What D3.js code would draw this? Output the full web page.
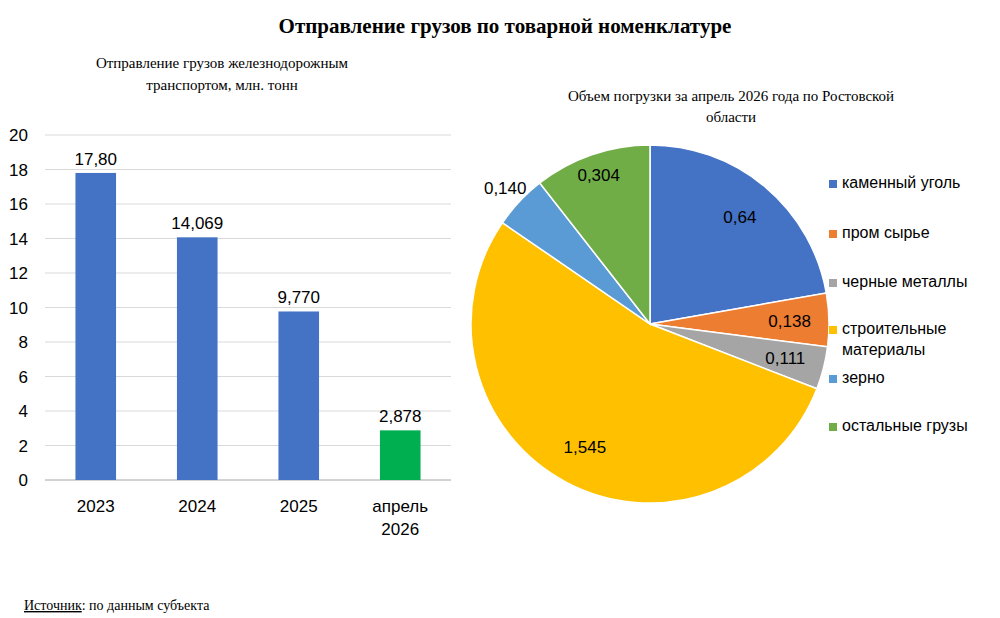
<!DOCTYPE html>
<html><head><meta charset="utf-8">
<script src="https://cdn.jsdelivr.net/npm/d3@7/dist/d3.min.js"></script>
<style>body{margin:0;background:#fff}</style></head>
<body><svg id="c" width="1000" height="618"></svg>
<script>
const barCats = [["2023"],["2024"],["2025"],["апрель","2026"]];
const barVals = [17.80, 14.069, 9.770, 2.878];
const barLabels = ["17,80","14,069","9,770","2,878"];
const barColors = ["#4472C4","#4472C4","#4472C4","#00B050"];
const yTicks = [0,2,4,6,8,10,12,14,16,18,20];

const pieCats = [["каменный уголь"],["пром сырье"],["черные металлы"],["строительные","материалы"],["зерно"],["остальные грузы"]];
const pieVals = [0.64, 0.138, 0.111, 1.545, 0.140, 0.304];
const pieLabels = ["0,64","0,138","0,111","1,545","0,140","0,304"];
const pieColors = ["#4472C4","#ED7D31","#A5A5A5","#FFC000","#5B9BD5","#70AD47"];

const svg = d3.select("#c");
const serif = "'Liberation Serif','DejaVu Serif',serif";
const sans = "'Liberation Sans',Arial,sans-serif";

svg.append("text").attr("x",505).attr("y",33).attr("text-anchor","middle")
  .attr("font-family",serif).attr("font-weight","bold").attr("font-size",21).text("Отправление грузов по товарной номенклатуре");
[["Отправление грузов железнодорожным",68],["транспортом, млн. тонн",90]].forEach(([t,y])=>
  svg.append("text").attr("x",222).attr("y",y).attr("text-anchor","middle").attr("font-family",serif).attr("font-size",15).text(t));
[["Объем погрузки за апрель 2026 года по Ростовской",101],["области",122]].forEach(([t,y])=>
  svg.append("text").attr("x",731).attr("y",y).attr("text-anchor","middle").attr("font-family",serif).attr("font-size",15).text(t));

// bar chart
const x = d3.scaleBand().domain(d3.range(barVals.length)).range([45,451]).paddingInner(0.6).paddingOuter(0.3);
const y = d3.scaleLinear().domain([0,20]).range([480,135]);
const g = svg.append("g");
g.selectAll(".grid").data(yTicks).join("line").attr("x1",45).attr("x2",451)
  .attr("y1",d=>y(d)).attr("y2",d=>y(d)).attr("stroke",d=>d===0?"#a6a6a6":"#d9d9d9").attr("stroke-width",1);
g.selectAll(".yt").data(yTicks).join("text").attr("x",28).attr("y",d=>y(d)+6).attr("text-anchor","end")
  .attr("font-family",sans).attr("font-size",17).text(d=>d);
g.selectAll(".bar").data(barVals).join("rect").attr("x",(d,i)=>x(i)).attr("width",x.bandwidth())
  .attr("y",d=>y(d)).attr("height",d=>y(0)-y(d)).attr("fill",(d,i)=>barColors[i]);
g.selectAll(".bl").data(barVals).join("text").attr("x",(d,i)=>x(i)+x.bandwidth()/2).attr("y",d=>y(d)-8)
  .attr("text-anchor","middle").attr("font-family",sans).attr("font-size",17).text((d,i)=>barLabels[i]);
barCats.forEach((lines,i)=>lines.forEach((t,j)=>
  g.append("text").attr("x",x(i)+x.bandwidth()/2).attr("y",512+j*23).attr("text-anchor","middle")
   .attr("font-family",sans).attr("font-size",17).text(t)));

// pie
const cx=650, cy=324, r=179;
const pie = d3.pie().sort(null).value(d=>d)(pieVals);
const arc = d3.arc().innerRadius(0).outerRadius(r);
const pg = svg.append("g").attr("transform",`translate(${cx},${cy})`);
pg.selectAll("path").data(pie).join("path").attr("d",arc).attr("fill",(d,i)=>pieColors[i])
  .attr("stroke","#fff").attr("stroke-width",1.5);
pg.selectAll(".pl").data(pie).join("text").each(function(d,i){
  const a=(d.startAngle+d.endAngle)/2;
  const rr = d.value/d3.sum(pieVals) < 0.05 && i===4 ? r*1.11 : (i===5? r*0.88 : r*0.78);
  d3.select(this).attr("x",rr*Math.sin(a)).attr("y",-rr*Math.cos(a)+6);
}).attr("text-anchor","middle").attr("font-family",sans).attr("font-size",17).text((d,i)=>pieLabels[i]);

// legend
const legY=[189,239,288,335,384,432];
pieCats.forEach((lines,i)=>{
  svg.append("rect").attr("x",829).attr("y",legY[i]-9).attr("width",8).attr("height",8).attr("fill",pieColors[i]);
  lines.forEach((t,j)=>svg.append("text").attr("x",842).attr("y",legY[i]-1+j*21)
    .attr("font-family",sans).attr("font-size",16).text(t));
});

const src = svg.append("text").attr("x",24).attr("y",610).attr("font-family",serif).attr("font-size",14);
src.append("tspan").attr("text-decoration","underline").text("Источник");
src.append("tspan").text(": по данным субъекта");
</script></body></html>
